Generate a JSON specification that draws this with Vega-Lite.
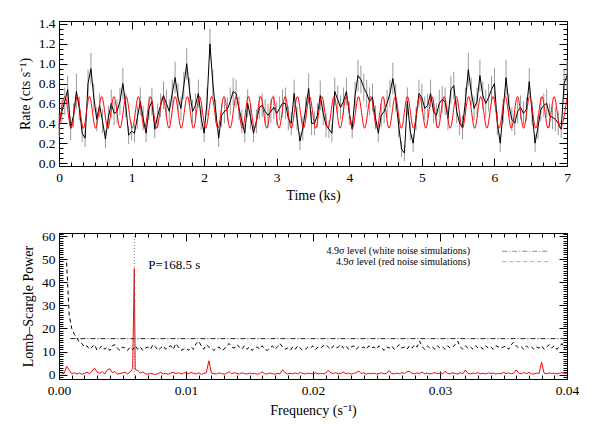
{
  "$schema": "https://vega.github.io/schema/vega-lite/v6.json",
  "padding": {"left": 17, "top": 16, "right": 5, "bottom": 5},
  "bounds": "flush",
  "spacing": 67,
  "config": {
    "font": "Liberation Serif",
    "view": {"stroke": "#000", "strokeWidth": 1},
    "axis": {"labelFont": "Liberation Serif", "titleFont": "Liberation Serif", "labelFontSize": 13.5, "titleFontSize": 14, "titleFontWeight": "normal", "labelColor": "#000", "titleColor": "#000", "tickColor": "#000", "domainColor": "#000", "domainWidth": 1, "tickWidth": 1, "grid": false, "labelOverlap": false, "labelFlush": false, "labelBound": false}
  },
  "datasets": {
    "lc": [
      {"t":0.00,"v":0.38,"e":0.12},{"t":0.04,"v":0.52,"e":0.12},{"t":0.08,"v":0.62,"e":0.14},{"t":0.12,"v":0.74,"e":0.14},{"t":0.16,"v":0.35,"e":0.12},
      {"t":0.20,"v":0.48,"e":0.12},{"t":0.24,"v":0.72,"e":0.18},{"t":0.28,"v":0.55,"e":0.12},{"t":0.32,"v":0.30,"e":0.09},{"t":0.36,"v":0.25,"e":0.09},
      {"t":0.40,"v":0.80,"e":0.14},{"t":0.44,"v":0.95,"e":0.16},{"t":0.48,"v":0.66,"e":0.14},{"t":0.52,"v":0.44,"e":0.12},{"t":0.56,"v":0.58,"e":0.12},
      {"t":0.60,"v":0.42,"e":0.12},{"t":0.64,"v":0.24,"e":0.09},{"t":0.68,"v":0.46,"e":0.12},{"t":0.72,"v":0.60,"e":0.14},{"t":0.76,"v":0.50,"e":0.12},
      {"t":0.80,"v":0.52,"e":0.12},{"t":0.84,"v":0.62,"e":0.14},{"t":0.88,"v":0.80,"e":0.16},{"t":0.92,"v":0.58,"e":0.12},{"t":0.96,"v":0.28,"e":0.09},
      {"t":1.00,"v":0.32,"e":0.09},{"t":1.04,"v":0.30,"e":0.09},{"t":1.08,"v":0.46,"e":0.12},{"t":1.12,"v":0.62,"e":0.14},{"t":1.16,"v":0.45,"e":0.12},
      {"t":1.20,"v":0.30,"e":0.09},{"t":1.24,"v":0.55,"e":0.12},{"t":1.28,"v":0.62,"e":0.14},{"t":1.32,"v":0.34,"e":0.09},{"t":1.36,"v":0.48,"e":0.12},
      {"t":1.40,"v":0.58,"e":0.12},{"t":1.44,"v":0.68,"e":0.14},{"t":1.48,"v":0.60,"e":0.14},{"t":1.52,"v":0.52,"e":0.12},{"t":1.56,"v":0.70,"e":0.14},
      {"t":1.60,"v":0.86,"e":0.16},{"t":1.64,"v":0.66,"e":0.14},{"t":1.68,"v":0.55,"e":0.12},{"t":1.72,"v":0.78,"e":0.14},{"t":1.76,"v":1.00,"e":0.16},
      {"t":1.80,"v":0.72,"e":0.14},{"t":1.84,"v":0.52,"e":0.12},{"t":1.88,"v":0.58,"e":0.12},{"t":1.92,"v":0.70,"e":0.14},{"t":1.96,"v":0.45,"e":0.12},
      {"t":2.00,"v":0.30,"e":0.09},{"t":2.04,"v":0.62,"e":0.14},{"t":2.08,"v":1.20,"e":0.15},{"t":2.12,"v":0.80,"e":0.14},{"t":2.16,"v":0.52,"e":0.12},
      {"t":2.20,"v":0.25,"e":0.09},{"t":2.24,"v":0.48,"e":0.12},{"t":2.28,"v":0.52,"e":0.12},{"t":2.32,"v":0.54,"e":0.12},{"t":2.36,"v":0.62,"e":0.14},
      {"t":2.40,"v":0.72,"e":0.14},{"t":2.44,"v":0.70,"e":0.14},{"t":2.48,"v":0.55,"e":0.12},{"t":2.52,"v":0.42,"e":0.12},{"t":2.56,"v":0.30,"e":0.09},
      {"t":2.60,"v":0.60,"e":0.14},{"t":2.64,"v":0.46,"e":0.12},{"t":2.68,"v":0.30,"e":0.09},{"t":2.72,"v":0.42,"e":0.12},{"t":2.76,"v":0.56,"e":0.12},
      {"t":2.80,"v":0.58,"e":0.12},{"t":2.84,"v":0.52,"e":0.12},{"t":2.88,"v":0.48,"e":0.12},{"t":2.92,"v":0.52,"e":0.12},{"t":2.96,"v":0.56,"e":0.12},
      {"t":3.00,"v":0.50,"e":0.12},{"t":3.04,"v":0.55,"e":0.12},{"t":3.08,"v":0.60,"e":0.14},{"t":3.12,"v":0.60,"e":0.16},{"t":3.16,"v":0.45,"e":0.12},
      {"t":3.20,"v":0.40,"e":0.12},{"t":3.24,"v":0.70,"e":0.14},{"t":3.28,"v":0.45,"e":0.12},{"t":3.32,"v":0.22,"e":0.09},{"t":3.36,"v":0.35,"e":0.12},
      {"t":3.40,"v":0.55,"e":0.12},{"t":3.44,"v":0.75,"e":0.15},{"t":3.48,"v":0.40,"e":0.12},{"t":3.52,"v":0.40,"e":0.12},{"t":3.56,"v":0.48,"e":0.12},
      {"t":3.60,"v":0.68,"e":0.15},{"t":3.64,"v":0.50,"e":0.12},{"t":3.68,"v":0.38,"e":0.12},{"t":3.72,"v":0.34,"e":0.09},{"t":3.76,"v":0.30,"e":0.09},
      {"t":3.80,"v":0.72,"e":0.14},{"t":3.84,"v":0.64,"e":0.14},{"t":3.88,"v":0.56,"e":0.12},{"t":3.92,"v":0.62,"e":0.14},{"t":3.96,"v":0.72,"e":0.14},
      {"t":4.00,"v":0.50,"e":0.12},{"t":4.04,"v":0.34,"e":0.09},{"t":4.08,"v":0.68,"e":0.14},{"t":4.12,"v":0.88,"e":0.16},{"t":4.16,"v":0.84,"e":0.14},
      {"t":4.20,"v":0.76,"e":0.14},{"t":4.24,"v":0.70,"e":0.14},{"t":4.28,"v":0.62,"e":0.14},{"t":4.32,"v":0.66,"e":0.14},{"t":4.36,"v":0.46,"e":0.12},
      {"t":4.40,"v":0.30,"e":0.09},{"t":4.44,"v":0.48,"e":0.12},{"t":4.48,"v":0.52,"e":0.12},{"t":4.52,"v":0.60,"e":0.14},{"t":4.56,"v":0.70,"e":0.14},
      {"t":4.60,"v":0.85,"e":0.16},{"t":4.64,"v":0.66,"e":0.14},{"t":4.68,"v":0.38,"e":0.12},{"t":4.72,"v":0.14,"e":0.08},{"t":4.76,"v":0.10,"e":0.08},
      {"t":4.80,"v":0.62,"e":0.14},{"t":4.84,"v":0.32,"e":0.09},{"t":4.88,"v":0.20,"e":0.09},{"t":4.92,"v":0.45,"e":0.12},{"t":4.96,"v":0.70,"e":0.14},
      {"t":5.00,"v":0.66,"e":0.14},{"t":5.04,"v":0.55,"e":0.12},{"t":5.08,"v":0.58,"e":0.12},{"t":5.12,"v":0.70,"e":0.14},{"t":5.16,"v":0.52,"e":0.12},
      {"t":5.20,"v":0.48,"e":0.12},{"t":5.24,"v":0.60,"e":0.14},{"t":5.28,"v":0.64,"e":0.14},{"t":5.32,"v":0.62,"e":0.14},{"t":5.36,"v":0.45,"e":0.12},
      {"t":5.40,"v":0.74,"e":0.14},{"t":5.44,"v":0.78,"e":0.14},{"t":5.48,"v":0.52,"e":0.12},{"t":5.52,"v":0.40,"e":0.12},{"t":5.56,"v":0.36,"e":0.12},
      {"t":5.60,"v":0.62,"e":0.14},{"t":5.64,"v":0.94,"e":0.17},{"t":5.68,"v":0.72,"e":0.14},{"t":5.72,"v":0.55,"e":0.12},{"t":5.76,"v":0.62,"e":0.14},
      {"t":5.80,"v":0.88,"e":0.16},{"t":5.84,"v":0.68,"e":0.14},{"t":5.88,"v":0.60,"e":0.14},{"t":5.92,"v":0.66,"e":0.14},{"t":5.96,"v":0.74,"e":0.14},
      {"t":6.00,"v":0.80,"e":0.16},{"t":6.04,"v":0.40,"e":0.12},{"t":6.08,"v":0.20,"e":0.09},{"t":6.12,"v":0.52,"e":0.12},{"t":6.16,"v":0.86,"e":0.18},
      {"t":6.20,"v":0.58,"e":0.12},{"t":6.24,"v":0.44,"e":0.12},{"t":6.28,"v":0.40,"e":0.12},{"t":6.32,"v":0.52,"e":0.12},{"t":6.36,"v":0.56,"e":0.12},
      {"t":6.40,"v":0.50,"e":0.12},{"t":6.44,"v":0.54,"e":0.12},{"t":6.48,"v":0.82,"e":0.14},{"t":6.52,"v":0.50,"e":0.12},{"t":6.56,"v":0.20,"e":0.09},
      {"t":6.60,"v":0.36,"e":0.12},{"t":6.64,"v":0.54,"e":0.12},{"t":6.68,"v":0.58,"e":0.12},{"t":6.72,"v":0.60,"e":0.14},{"t":6.76,"v":0.48,"e":0.12},
      {"t":6.80,"v":0.46,"e":0.12},{"t":6.84,"v":0.44,"e":0.12},{"t":6.88,"v":0.40,"e":0.12},{"t":6.92,"v":0.34,"e":0.09},{"t":6.96,"v":0.80,"e":0.14},
      {"t":7.00,"v":0.88,"e":0.16}
    ],
    "sine": [
      {"t":0,"s":0.35},{"t":0.083,"s":0.67},{"t":0.167,"s":0.35},{"t":0.252,"s":0.67},{"t":0.336,"s":0.35},{"t":0.420,"s":0.67},{"t":0.504,"s":0.35},
      {"t":0.589,"s":0.67},{"t":0.673,"s":0.35},{"t":0.757,"s":0.67},{"t":0.841,"s":0.35},{"t":0.926,"s":0.67},{"t":1.010,"s":0.35},{"t":1.094,"s":0.67},
      {"t":1.178,"s":0.35},{"t":1.263,"s":0.67},{"t":1.347,"s":0.35},{"t":1.431,"s":0.67},{"t":1.515,"s":0.35},{"t":1.600,"s":0.67},{"t":1.684,"s":0.35},
      {"t":1.768,"s":0.67},{"t":1.852,"s":0.35},{"t":1.937,"s":0.67},{"t":2.021,"s":0.35},{"t":2.105,"s":0.67},{"t":2.189,"s":0.35},{"t":2.274,"s":0.67},
      {"t":2.358,"s":0.35},{"t":2.442,"s":0.67},{"t":2.526,"s":0.35},{"t":2.611,"s":0.67},{"t":2.695,"s":0.35},{"t":2.779,"s":0.67},{"t":2.863,"s":0.35},
      {"t":2.948,"s":0.67},{"t":3.032,"s":0.35},{"t":3.116,"s":0.67},{"t":3.200,"s":0.35},{"t":3.285,"s":0.67},{"t":3.369,"s":0.35},{"t":3.453,"s":0.67},
      {"t":3.537,"s":0.35},{"t":3.622,"s":0.67},{"t":3.706,"s":0.35},{"t":3.790,"s":0.67},{"t":3.874,"s":0.35},{"t":3.959,"s":0.67},{"t":4.043,"s":0.35},
      {"t":4.127,"s":0.67},{"t":4.211,"s":0.35},{"t":4.296,"s":0.67},{"t":4.380,"s":0.35},{"t":4.464,"s":0.67},{"t":4.548,"s":0.35},{"t":4.633,"s":0.67},
      {"t":4.717,"s":0.35},{"t":4.801,"s":0.67},{"t":4.885,"s":0.35},{"t":4.970,"s":0.67},{"t":5.054,"s":0.35},{"t":5.138,"s":0.67},{"t":5.222,"s":0.35},
      {"t":5.307,"s":0.67},{"t":5.391,"s":0.35},{"t":5.475,"s":0.67},{"t":5.559,"s":0.35},{"t":5.644,"s":0.67},{"t":5.728,"s":0.35},{"t":5.812,"s":0.67},
      {"t":5.896,"s":0.35},{"t":5.981,"s":0.67},{"t":6.065,"s":0.35},{"t":6.149,"s":0.67},{"t":6.233,"s":0.35},{"t":6.318,"s":0.67},{"t":6.402,"s":0.35},
      {"t":6.486,"s":0.67},{"t":6.570,"s":0.35},{"t":6.655,"s":0.67},{"t":6.739,"s":0.35},{"t":6.823,"s":0.67},{"t":6.907,"s":0.35},{"t":7.0,"s":0.66}
    ],
    "ls": [
      {"f":0.0002,"p":0.3,"r":null},{"f":0.0004,"p":0.6,"r":null},{"f":0.0006,"p":3.6,"r":48.5},{"f":0.0008,"p":2.0,"r":26},{"f":0.0010,"p":0.4,"r":20},
      {"f":0.0012,"p":0.9,"r":17.5},{"f":0.0014,"p":0.3,"r":16},{"f":0.0016,"p":0.7,"r":14},{"f":0.0018,"p":0.2,"r":13.5},{"f":0.0020,"p":0.5,"r":12},
      {"f":0.0022,"p":1.1,"r":12.5},{"f":0.0024,"p":0.4,"r":11},{"f":0.0026,"p":1.6,"r":12},{"f":0.0028,"p":2.8,"r":13},{"f":0.0030,"p":1.2,"r":10.5},
      {"f":0.0032,"p":0.6,"r":11.5},{"f":0.0034,"p":1.3,"r":12.5},{"f":0.0036,"p":0.3,"r":11},{"f":0.0038,"p":2.0,"r":12},{"f":0.0040,"p":2.6,"r":10.5},
      {"f":0.0042,"p":0.9,"r":12.5},{"f":0.0044,"p":1.4,"r":13},{"f":0.0046,"p":0.2,"r":11.5},{"f":0.0048,"p":0.5,"r":10.5},{"f":0.0050,"p":0.8,"r":12},
      {"f":0.0052,"p":1.0,"r":11.5},{"f":0.0054,"p":0.3,"r":10.5},{"f":0.0056,"p":1.2,"r":12},{"f":0.0058,"p":2.6,"r":11},{"f":0.00593,"p":46,"r":11.5},
      {"f":0.0060,"p":2.2,"r":12.5},{"f":0.0062,"p":1.8,"r":11},{"f":0.0064,"p":0.7,"r":12},{"f":0.0066,"p":1.2,"r":10.5},{"f":0.0068,"p":0.4,"r":11.5},
      {"f":0.0070,"p":0.2,"r":12},{"f":0.0072,"p":0.6,"r":11},{"f":0.0074,"p":0.3,"r":13},{"f":0.0076,"p":0.1,"r":12},{"f":0.0078,"p":0.4,"r":10.5},
      {"f":0.0080,"p":1.1,"r":11.5},{"f":0.0082,"p":0.3,"r":12.5},{"f":0.0084,"p":0.6,"r":11},{"f":0.0086,"p":0.2,"r":12},{"f":0.0088,"p":0.8,"r":12.5},
      {"f":0.0090,"p":1.0,"r":11},{"f":0.0092,"p":0.5,"r":13.5},{"f":0.0094,"p":0.9,"r":12},{"f":0.0096,"p":0.3,"r":10.5},{"f":0.0098,"p":0.7,"r":11},
      {"f":0.0100,"p":0.9,"r":11.5},{"f":0.0102,"p":0.4,"r":10.5},{"f":0.0104,"p":1.0,"r":12},{"f":0.0106,"p":0.6,"r":11},{"f":0.0108,"p":0.3,"r":13.5},
      {"f":0.0110,"p":0.8,"r":14.5},{"f":0.0112,"p":0.2,"r":12.5},{"f":0.0114,"p":0.5,"r":11},{"f":0.0116,"p":0.9,"r":13},{"f":0.0118,"p":6.0,"r":12},
      {"f":0.0120,"p":0.7,"r":11.5},{"f":0.0122,"p":0.4,"r":10.5},{"f":0.0124,"p":0.3,"r":11.5},{"f":0.0126,"p":0.8,"r":12},{"f":0.0128,"p":0.5,"r":10.5},
      {"f":0.0130,"p":0.2,"r":11},{"f":0.0132,"p":0.6,"r":12.5},{"f":0.0134,"p":1.3,"r":13.5},{"f":0.0136,"p":0.4,"r":12},{"f":0.0138,"p":0.9,"r":11.5},
      {"f":0.0140,"p":0.6,"r":13},{"f":0.0142,"p":0.3,"r":12},{"f":0.0144,"p":0.8,"r":11},{"f":0.0146,"p":0.5,"r":12.5},{"f":0.0148,"p":0.3,"r":11},
      {"f":0.0150,"p":0.7,"r":12},{"f":0.0152,"p":0.4,"r":10.5},{"f":0.0154,"p":0.6,"r":11.5},{"f":0.0156,"p":0.2,"r":12},{"f":0.0158,"p":0.5,"r":11},
      {"f":0.0160,"p":1.2,"r":12.5},{"f":0.0162,"p":0.4,"r":11},{"f":0.0164,"p":0.3,"r":10.5},{"f":0.0166,"p":0.7,"r":11.5},{"f":0.0168,"p":0.5,"r":12.5},
      {"f":0.0170,"p":0.2,"r":11},{"f":0.0172,"p":0.6,"r":12},{"f":0.0174,"p":0.4,"r":13.5},{"f":0.0176,"p":2.2,"r":12},{"f":0.0178,"p":0.9,"r":11},
      {"f":0.0180,"p":0.3,"r":11.5},{"f":0.0182,"p":0.6,"r":10.5},{"f":0.0184,"p":0.4,"r":12},{"f":0.0186,"p":0.8,"r":11},{"f":0.0188,"p":0.3,"r":12.5},
      {"f":0.0190,"p":1.0,"r":11.5},{"f":0.0192,"p":0.5,"r":10.5},{"f":0.0194,"p":0.3,"r":11},{"f":0.0196,"p":0.7,"r":12},{"f":0.0198,"p":0.5,"r":11.5},
      {"f":0.0200,"p":0.4,"r":12.5},{"f":0.0202,"p":0.8,"r":11},{"f":0.0204,"p":0.3,"r":12},{"f":0.0206,"p":0.6,"r":11.5},{"f":0.0208,"p":0.4,"r":12.5},
      {"f":0.0210,"p":0.7,"r":13},{"f":0.0212,"p":1.9,"r":12},{"f":0.0214,"p":0.8,"r":11},{"f":0.0216,"p":0.5,"r":12.5},{"f":0.0218,"p":0.9,"r":11.5},
      {"f":0.0220,"p":0.3,"r":12},{"f":0.0222,"p":0.6,"r":13},{"f":0.0224,"p":1.2,"r":11.5},{"f":0.0226,"p":0.4,"r":12.5},{"f":0.0228,"p":0.7,"r":11},
      {"f":0.0230,"p":0.3,"r":12},{"f":0.0232,"p":0.5,"r":12.5},{"f":0.0234,"p":0.9,"r":11},{"f":0.0236,"p":1.6,"r":12},{"f":0.0238,"p":0.5,"r":11.5},
      {"f":0.0240,"p":0.8,"r":12},{"f":0.0242,"p":0.3,"r":11},{"f":0.0244,"p":0.6,"r":12.5},{"f":0.0246,"p":0.4,"r":11.5},{"f":0.0248,"p":0.7,"r":12},
      {"f":0.0250,"p":0.3,"r":11},{"f":0.0252,"p":0.5,"r":12.5},{"f":0.0254,"p":0.8,"r":11.5},{"f":0.0256,"p":0.4,"r":10.5},{"f":0.0258,"p":0.6,"r":12},
      {"f":0.0260,"p":1.8,"r":11.5},{"f":0.0262,"p":0.5,"r":12.5},{"f":0.0264,"p":0.3,"r":11},{"f":0.0266,"p":0.7,"r":12},{"f":0.0268,"p":0.4,"r":13},
      {"f":0.0270,"p":0.9,"r":11.5},{"f":0.0272,"p":0.5,"r":12},{"f":0.0274,"p":1.3,"r":11},{"f":0.0276,"p":1.4,"r":12.5},{"f":0.0278,"p":0.6,"r":11.5},
      {"f":0.0280,"p":0.4,"r":13},{"f":0.0282,"p":0.8,"r":12},{"f":0.0284,"p":0.5,"r":14.5},{"f":0.0286,"p":1.1,"r":12},{"f":0.0288,"p":0.4,"r":11},
      {"f":0.0290,"p":0.7,"r":12.5},{"f":0.0292,"p":0.3,"r":11.5},{"f":0.0294,"p":0.6,"r":12},{"f":0.0296,"p":0.9,"r":11},{"f":0.0298,"p":0.4,"r":12.5},
      {"f":0.0300,"p":0.7,"r":11.5},{"f":0.0302,"p":0.3,"r":12},{"f":0.0304,"p":1.5,"r":11},{"f":0.0306,"p":0.6,"r":12.5},{"f":0.0308,"p":0.4,"r":11.5},
      {"f":0.0310,"p":0.8,"r":12},{"f":0.0312,"p":0.5,"r":13},{"f":0.0314,"p":0.3,"r":14.5},{"f":0.0316,"p":0.9,"r":12},{"f":0.0318,"p":0.4,"r":11},
      {"f":0.0320,"p":2.0,"r":12.5},{"f":0.0322,"p":0.6,"r":11.5},{"f":0.0324,"p":0.3,"r":12},{"f":0.0326,"p":0.7,"r":11},{"f":0.0328,"p":0.5,"r":12.5},
      {"f":0.0330,"p":0.9,"r":11.5},{"f":0.0332,"p":0.4,"r":12},{"f":0.0334,"p":0.6,"r":11},{"f":0.0336,"p":0.3,"r":12.5},{"f":0.0338,"p":0.8,"r":11.5},
      {"f":0.0340,"p":0.5,"r":12},{"f":0.0342,"p":0.7,"r":11},{"f":0.0344,"p":0.3,"r":12.5},{"f":0.0346,"p":0.6,"r":12},{"f":0.0348,"p":0.4,"r":11.5},
      {"f":0.0350,"p":1.0,"r":12},{"f":0.0352,"p":0.5,"r":12.5},{"f":0.0354,"p":0.8,"r":11},{"f":0.0356,"p":0.4,"r":13},{"f":0.0358,"p":0.6,"r":14},
      {"f":0.0360,"p":2.1,"r":12.5},{"f":0.0362,"p":0.7,"r":11.5},{"f":0.0364,"p":0.4,"r":12},{"f":0.0366,"p":0.9,"r":11},{"f":0.0368,"p":0.5,"r":12.5},
      {"f":0.0370,"p":1.0,"r":11.5},{"f":0.0372,"p":0.4,"r":12},{"f":0.0374,"p":0.3,"r":11},{"f":0.0376,"p":0.7,"r":12},{"f":0.0378,"p":0.5,"r":11.5},
      {"f":0.0380,"p":5.4,"r":12.5},{"f":0.0382,"p":0.6,"r":11},{"f":0.0384,"p":0.4,"r":12},{"f":0.0386,"p":0.8,"r":13},{"f":0.0388,"p":0.5,"r":11.5},
      {"f":0.0390,"p":0.7,"r":12.5},{"f":0.0392,"p":0.3,"r":11},{"f":0.0394,"p":0.6,"r":12},{"f":0.0396,"p":0.9,"r":13.5},{"f":0.0398,"p":0.5,"r":11.5},
      {"f":0.0400,"p":0.7,"r":12}
    ],
    "wn": [{"f":0.0009,"w":15.6},{"f":0.04,"w":15.6}],
    "pk": [{"f":0.005935}],
    "ann": [{"f":0.00703,"p":47.5,"label":"P=168.5 s"}],
    "legtxt": [{"f":0.03236,"p":53.4,"label":"4.9σ level (white noise simulations)"},{"f":0.03236,"p":48.9,"label":"4.9σ level (red noise simulations)"}],
    "legw": [{"f":0.0349,"p":53.4},{"f":0.0386,"p":53.4}],
    "legr": [{"f":0.0349,"p":48.9},{"f":0.0386,"p":48.9}]
  },
  "vconcat": [
    {
      "width": 508,
      "height": 145,
      "resolve": {"axis": {"x": "independent", "y": "independent"}},
      "layer": [
        {
          "data": {"name": "lc"},
          "mark": {"type": "errorbar", "color": "#9a9a9a"},
          "encoding": {
            "x": {"field": "t", "type": "quantitative", "scale": {"domain": [0, 7], "nice": false, "zero": false},
              "axis": {"orient": "bottom", "title": "Time (ks)", "titlePadding": 1, "labelPadding": 12,
                "values": [0,0.1667,0.3333,0.5,0.6667,0.8333,1,1.1667,1.3333,1.5,1.6667,1.8333,2,2.1667,2.3333,2.5,2.6667,2.8333,3,3.1667,3.3333,3.5,3.6667,3.8333,4,4.1667,4.3333,4.5,4.6667,4.8333,5,5.1667,5.3333,5.5,5.6667,5.8333,6,6.1667,6.3333,6.5,6.6667,6.8333,7],
                "labelExpr": "abs(datum.value - round(datum.value)) < 0.001 ? format(datum.value, 'd') : ''",
                "tickSize": {"condition": {"test": "abs(datum.value - round(datum.value)) < 0.001", "value": -8}, "value": -4}}},
            "y": {"field": "v", "type": "quantitative", "scale": {"domain": [-0.03, 1.43], "nice": false, "zero": false},
              "axis": {"orient": "left", "title": "Rate (cts s⁻¹)", "titlePadding": 6, "labelPadding": 12,
                "values": [0,0.05,0.1,0.15,0.2,0.25,0.3,0.35,0.4,0.45,0.5,0.55,0.6,0.65,0.7,0.75,0.8,0.85,0.9,0.95,1,1.05,1.1,1.15,1.2,1.25,1.3,1.35,1.4],
                "labelExpr": "abs(datum.value*5 - round(datum.value*5)) < 0.001 ? format(datum.value, '.1f') : ''",
                "tickSize": {"condition": {"test": "abs(datum.value*5 - round(datum.value*5)) < 0.001", "value": -8}, "value": -4}}},
            "yError": {"field": "e"}
          }
        },
        {
          "data": {"name": "lc"},
          "mark": {"type": "line", "color": "#000", "strokeWidth": 1},
          "encoding": {
            "x": {"field": "t", "type": "quantitative", "scale": {"domain": [0, 7], "nice": false, "zero": false},
              "axis": {"orient": "top", "title": null, "labels": false,
                "values": [0,0.1667,0.3333,0.5,0.6667,0.8333,1,1.1667,1.3333,1.5,1.6667,1.8333,2,2.1667,2.3333,2.5,2.6667,2.8333,3,3.1667,3.3333,3.5,3.6667,3.8333,4,4.1667,4.3333,4.5,4.6667,4.8333,5,5.1667,5.3333,5.5,5.6667,5.8333,6,6.1667,6.3333,6.5,6.6667,6.8333,7],
                "tickSize": {"condition": {"test": "abs(datum.value - round(datum.value)) < 0.001", "value": -8}, "value": -4}}},
            "y": {"field": "v", "type": "quantitative", "scale": {"domain": [-0.03, 1.43], "nice": false, "zero": false},
              "axis": {"orient": "right", "title": null, "labels": false,
                "values": [0,0.05,0.1,0.15,0.2,0.25,0.3,0.35,0.4,0.45,0.5,0.55,0.6,0.65,0.7,0.75,0.8,0.85,0.9,0.95,1,1.05,1.1,1.15,1.2,1.25,1.3,1.35,1.4],
                "tickSize": {"condition": {"test": "abs(datum.value*5 - round(datum.value*5)) < 0.001", "value": -8}, "value": -4}}}
          }
        },
        {
          "data": {"name": "sine"},
          "mark": {"type": "line", "color": "#ff0000", "strokeWidth": 1, "interpolate": "monotone"},
          "encoding": {
            "x": {"field": "t", "type": "quantitative", "scale": {"domain": [0, 7], "nice": false, "zero": false}, "axis": null},
            "y": {"field": "s", "type": "quantitative", "scale": {"domain": [-0.03, 1.43], "nice": false, "zero": false}, "axis": null}
          }
        }
      ]
    },
    {
      "width": 508,
      "height": 146,
      "resolve": {"axis": {"x": "independent", "y": "independent"}},
      "layer": [
        {
          "data": {"name": "ls"},
          "mark": {"type": "line", "color": "#ff0000", "strokeWidth": 1},
          "encoding": {
            "x": {"field": "f", "type": "quantitative", "scale": {"domain": [0, 0.04], "nice": false, "zero": false},
              "axis": {"orient": "bottom", "title": "Frequency (s⁻¹)", "titlePadding": 3, "labelPadding": 12,
                "values": [0,0.001,0.002,0.003,0.004,0.005,0.006,0.007,0.008,0.009,0.01,0.011,0.012,0.013,0.014,0.015,0.016,0.017,0.018,0.019,0.02,0.021,0.022,0.023,0.024,0.025,0.026,0.027,0.028,0.029,0.03,0.031,0.032,0.033,0.034,0.035,0.036,0.037,0.038,0.039,0.04],
                "labelExpr": "abs(datum.value*100 - round(datum.value*100)) < 0.001 ? format(datum.value, '.2f') : ''",
                "tickSize": {"condition": {"test": "abs(datum.value*100 - round(datum.value*100)) < 0.001", "value": -8}, "value": -4}}},
            "y": {"field": "p", "type": "quantitative", "scale": {"domain": [-1.86, 61.3], "nice": false, "zero": false},
              "axis": {"orient": "left", "title": "Lomb–Scargle Power", "titlePadding": 6, "labelPadding": 12,
                "values": [-1,0,1,2,3,4,5,6,7,8,9,10,11,12,13,14,15,16,17,18,19,20,21,22,23,24,25,26,27,28,29,30,31,32,33,34,35,36,37,38,39,40,41,42,43,44,45,46,47,48,49,50,51,52,53,54,55,56,57,58,59,60,61],
                "labelExpr": "datum.value % 10 == 0 ? format(datum.value, 'd') : ''",
                "tickSize": {"condition": {"test": "datum.value % 10 == 0", "value": -8}, "value": -4}}}
          }
        },
        {
          "data": {"name": "ls"},
          "mark": {"type": "line", "color": "#000", "strokeWidth": 1, "strokeDash": [4, 3]},
          "encoding": {
            "x": {"field": "f", "type": "quantitative", "scale": {"domain": [0, 0.04], "nice": false, "zero": false},
              "axis": {"orient": "top", "title": null, "labels": false,
                "values": [0,0.001,0.002,0.003,0.004,0.005,0.006,0.007,0.008,0.009,0.01,0.011,0.012,0.013,0.014,0.015,0.016,0.017,0.018,0.019,0.02,0.021,0.022,0.023,0.024,0.025,0.026,0.027,0.028,0.029,0.03,0.031,0.032,0.033,0.034,0.035,0.036,0.037,0.038,0.039,0.04],
                "tickSize": {"condition": {"test": "abs(datum.value*100 - round(datum.value*100)) < 0.001", "value": -8}, "value": -4}}},
            "y": {"field": "r", "type": "quantitative", "scale": {"domain": [-1.86, 61.3], "nice": false, "zero": false},
              "axis": {"orient": "right", "title": null, "labels": false,
                "values": [-1,0,1,2,3,4,5,6,7,8,9,10,11,12,13,14,15,16,17,18,19,20,21,22,23,24,25,26,27,28,29,30,31,32,33,34,35,36,37,38,39,40,41,42,43,44,45,46,47,48,49,50,51,52,53,54,55,56,57,58,59,60,61],
                "tickSize": {"condition": {"test": "datum.value % 10 == 0", "value": -8}, "value": -4}}}
          }
        },
        {
          "data": {"name": "wn"},
          "mark": {"type": "line", "color": "#222", "strokeWidth": 1, "strokeDash": [5, 2, 1, 2]},
          "encoding": {
            "x": {"field": "f", "type": "quantitative", "scale": {"domain": [0, 0.04], "nice": false, "zero": false}, "axis": null},
            "y": {"field": "w", "type": "quantitative", "scale": {"domain": [-1.86, 61.3], "nice": false, "zero": false}, "axis": null}
          }
        },
        {
          "data": {"name": "pk"},
          "mark": {"type": "rule", "color": "#777", "strokeWidth": 1, "strokeDash": [1, 2]},
          "encoding": {
            "x": {"field": "f", "type": "quantitative", "scale": {"domain": [0, 0.04], "nice": false, "zero": false}, "axis": null}
          }
        },
        {
          "data": {"name": "ann"},
          "mark": {"type": "text", "align": "left", "baseline": "middle", "fontSize": 13, "font": "Liberation Serif", "color": "#000"},
          "encoding": {
            "x": {"field": "f", "type": "quantitative", "scale": {"domain": [0, 0.04], "nice": false, "zero": false}, "axis": null},
            "y": {"field": "p", "type": "quantitative", "scale": {"domain": [-1.86, 61.3], "nice": false, "zero": false}, "axis": null},
            "text": {"field": "label"}
          }
        },
        {
          "data": {"name": "legtxt"},
          "mark": {"type": "text", "align": "right", "baseline": "middle", "fontSize": 10, "font": "Liberation Serif", "color": "#000"},
          "encoding": {
            "x": {"field": "f", "type": "quantitative", "scale": {"domain": [0, 0.04], "nice": false, "zero": false}, "axis": null},
            "y": {"field": "p", "type": "quantitative", "scale": {"domain": [-1.86, 61.3], "nice": false, "zero": false}, "axis": null},
            "text": {"field": "label"}
          }
        },
        {
          "data": {"name": "legw"},
          "mark": {"type": "line", "color": "#888", "strokeWidth": 1, "strokeDash": [5, 2, 1, 2]},
          "encoding": {
            "x": {"field": "f", "type": "quantitative", "scale": {"domain": [0, 0.04], "nice": false, "zero": false}, "axis": null},
            "y": {"field": "p", "type": "quantitative", "scale": {"domain": [-1.86, 61.3], "nice": false, "zero": false}, "axis": null}
          }
        },
        {
          "data": {"name": "legr"},
          "mark": {"type": "line", "color": "#aaa", "strokeWidth": 1, "strokeDash": [4, 3]},
          "encoding": {
            "x": {"field": "f", "type": "quantitative", "scale": {"domain": [0, 0.04], "nice": false, "zero": false}, "axis": null},
            "y": {"field": "p", "type": "quantitative", "scale": {"domain": [-1.86, 61.3], "nice": false, "zero": false}, "axis": null}
          }
        }
      ]
    }
  ]
}
